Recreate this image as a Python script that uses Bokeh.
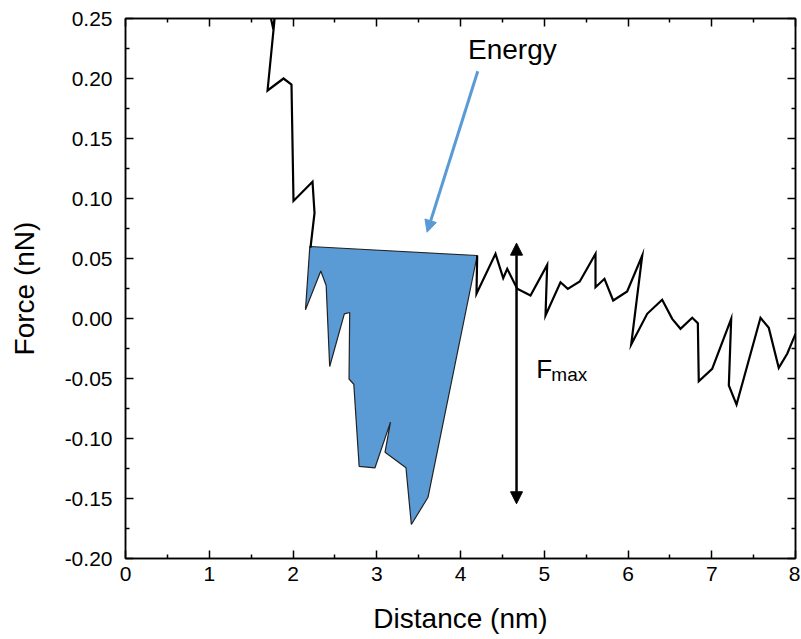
from bokeh.plotting import figure
from bokeh.models import (FixedTicker, LinearAxis, Range1d, Arrow, NormalHead,
                          Label, PrintfTickFormatter)
from bokeh.embed import file_html
from bokeh.resources import INLINE

# ---------------- data ----------------
x_ticks = [0, 1, 2, 3, 4, 5, 6, 7, 8]
x_minor = [0.5, 1.5, 2.5, 3.5, 4.5, 5.5, 6.5, 7.5]
y_ticks = [-0.20, -0.15, -0.10, -0.05, 0.00, 0.05, 0.10, 0.15, 0.20, 0.25]
y_minor = [-0.175, -0.125, -0.075, -0.025, 0.025, 0.075, 0.125, 0.175, 0.225]

# force curve before the energy region
curve_top_x = [1.70, 1.765, 1.79, 1.775, 1.696, 1.887, 1.982, 2.006, 2.233, 2.257, 2.209]
curve_top_y = [0.262, 0.241, 0.258, 0.246, 0.190, 0.200, 0.195, 0.098, 0.114, 0.088, 0.059]

# shaded energy region (its lower outline follows the curve)
energy_x = [2.201, 2.149, 2.332, 2.396, 2.438, 2.613, 2.677, 2.669, 2.726, 2.790,
            2.979, 3.164, 3.099, 3.349, 3.413, 3.612, 4.199]
energy_y = [0.060, 0.0073, 0.0396, 0.0275, -0.040, 0.0038, 0.005, -0.0504, -0.0548,
            -0.1233, -0.1244, -0.0864, -0.1114, -0.1244, -0.1717, -0.149, 0.0525]

# force curve after the energy region
curve_right_x = [4.199, 4.191, 4.418, 4.510, 4.558, 4.677, 4.836, 5.035, 5.015, 5.194,
                 5.281, 5.424, 5.612, 5.612, 5.719, 5.823, 5.990, 6.170, 6.038, 6.229,
                 6.408, 6.528, 6.627, 6.767, 6.834, 6.845, 7.005, 7.232, 7.204, 7.296,
                 7.582, 7.681, 7.800, 7.901, 8.0]
curve_right_y = [0.0525, 0.0206, 0.0539, 0.0336, 0.0414, 0.0248, 0.0192, 0.0447, 0.0025,
                 0.0302, 0.0247, 0.0308, 0.0539, 0.0261, 0.0331, 0.015, 0.0225, 0.0525,
                 -0.0217, 0.0039, 0.0156, -0.0003, -0.0086, 0.0006, -0.0039, -0.0523,
                 -0.0419, -0.0003, -0.0558, -0.0717, 0.0006, -0.0078, -0.0411, -0.0294,
                 -0.0128]

# annotations (data units)
energy_arrow = dict(x_start=4.206, y_start=0.2061, x_end=3.601, y_end=0.0719)
fmax_arrow = dict(x_start=4.669, y_start=-0.1544, x_end=4.669, y_end=0.0628)
energy_label = dict(x=4.090, y=0.2240, text="Energy")
fmax_label = dict(x=4.905, y=-0.0420, text="F")
fmax_sub = dict(x=5.085, y=-0.0465, text="max")

FONT = "Liberation Sans"
BLUE = "#5B9BD5"

p = figure(frame_width=670, frame_height=540,
           x_range=Range1d(0, 8), y_range=Range1d(-0.20, 0.25),
           output_backend="svg", toolbar_location=None,
           min_border_left=125, min_border_top=18, min_border_right=5,
           min_border_bottom=74,
           x_axis_label="Distance (nm)", y_axis_label="Force (nN)")
p.grid.visible = False
p.outline_line_color = "black"
p.outline_line_width = 1.5


def style_axis(ax, ticks, minor, labels=True):
    ax.ticker = FixedTicker(ticks=ticks, minor_ticks=minor)
    ax.axis_line_color = "black"
    ax.axis_line_width = 1.5
    ax.major_tick_line_color = "black"
    ax.major_tick_line_width = 1.5
    ax.minor_tick_line_color = "black"
    ax.minor_tick_line_width = 1.5
    ax.major_tick_in = 8
    ax.major_tick_out = 0
    ax.minor_tick_in = 4
    ax.minor_tick_out = 0
    if labels:
        ax.major_label_text_font = FONT
        ax.major_label_text_font_size = "21px"
        ax.major_label_text_color = "black"
        ax.axis_label_text_font = FONT
        ax.axis_label_text_font_size = "28px"
        ax.axis_label_text_font_style = "normal"
        ax.axis_label_text_color = "black"
    else:
        ax.major_label_text_font_size = "0px"
        ax.major_label_text_color = None
        ax.major_label_standoff = 0
        ax.axis_label = None


style_axis(p.xaxis[0], x_ticks, x_minor)
p.xaxis[0].major_label_standoff = 8
p.xaxis[0].axis_label_standoff = 19
style_axis(p.yaxis[0], y_ticks, y_minor)
p.yaxis[0].formatter = PrintfTickFormatter(format="%.2f")
p.yaxis[0].major_label_standoff = 13
p.yaxis[0].axis_label_standoff = 22

top_ax = LinearAxis()
style_axis(top_ax, x_ticks, x_minor, labels=False)
p.add_layout(top_ax, "above")
right_ax = LinearAxis()
style_axis(right_ax, y_ticks, y_minor, labels=False)
p.add_layout(right_ax, "right")

# energy region
p.patch(energy_x, energy_y, fill_color=BLUE, line_color="#222222", line_width=1.2)

# force curve
p.line(curve_top_x, curve_top_y, line_color="black", line_width=2.2, line_join="miter")
p.line(curve_right_x, curve_right_y, line_color="black", line_width=2.2, line_join="miter")

# arrows
p.add_layout(Arrow(end=NormalHead(size=12, fill_color=BLUE, line_color=BLUE),
                   line_color=BLUE, line_width=3, **energy_arrow))
p.add_layout(Arrow(start=NormalHead(size=12, fill_color="black", line_color="black"),
                   end=NormalHead(size=12, fill_color="black", line_color="black"),
                   line_color="black", line_width=2.5, **fmax_arrow))

# labels
p.add_layout(Label(text_font=FONT, text_font_size="28px", text_color="black",
                   text_baseline="alphabetic", **energy_label))
p.add_layout(Label(text_font=FONT, text_font_size="26px", text_color="black",
                   text_baseline="alphabetic", **fmax_label))
p.add_layout(Label(text_font=FONT, text_font_size="19px", text_color="black",
                   text_baseline="alphabetic", **fmax_sub))

open("out.html", "w").write(file_html(p, INLINE))
